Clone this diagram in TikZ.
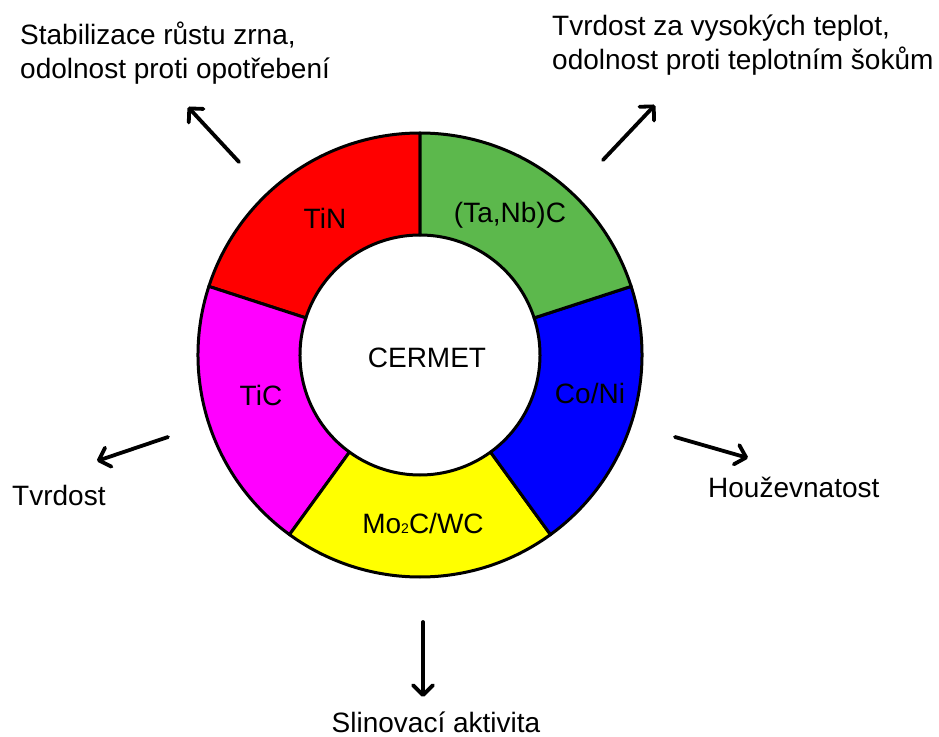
\documentclass[tikz,border=0pt]{standalone}
\usepackage{fontspec}
\setmainfont{Liberation Sans}
\usetikzlibrary{arrows.meta}
\definecolor{cgreen}{HTML}{5CB84C}
\definecolor{cred}{RGB}{255,0,0}
\definecolor{cmag}{RGB}{255,0,255}
\definecolor{cyel}{RGB}{255,255,0}
\definecolor{cblue}{RGB}{0,0,255}
\tikzset{
  seg/.style={line width=3pt, line join=round},
  lbl/.style={font=\fontsize{28}{34}\selectfont, inner sep=0pt},
  arr/.style={line width=3.8pt, line cap=round, -{Straight Barb[length=10pt,width=20pt,round]}}
}
\begin{document}
\begin{tikzpicture}[x=1pt,y=1pt]
  \useasboundingbox (-420,-381) rectangle (519,355);
  % ring segments
  \filldraw[seg,fill=cred] (90:222) arc[start angle=90,end angle=162,radius=222] -- (162:120) arc[start angle=162,end angle=90,radius=120] -- cycle;
  \filldraw[seg,fill=cmag] (162:222) arc[start angle=162,end angle=234,radius=222] -- (234:120) arc[start angle=234,end angle=162,radius=120] -- cycle;
  \filldraw[seg,fill=cyel] (234:222) arc[start angle=234,end angle=306,radius=222] -- (306:120) arc[start angle=306,end angle=234,radius=120] -- cycle;
  \filldraw[seg,fill=cblue] (306:222) arc[start angle=306,end angle=378,radius=222] -- (378:120) arc[start angle=378,end angle=306,radius=120] -- cycle;
  \filldraw[seg,fill=cgreen] (18:222) arc[start angle=18,end angle=90,radius=222] -- (90:120) arc[start angle=90,end angle=18,radius=120] -- cycle;
  % segment labels
  \node[lbl] (tin) at (-95,137) {TiN};
  \node[lbl] (tanb) at (90,140) {(Ta,Nb)C};
  \node[lbl] (coni) at (170,-38) {Co/Ni};
  \node[lbl] (mowc) at (3,-168) {Mo{\fontsize{14}{14}\selectfont 2}C/WC};
  \node[lbl] (tic) at (-159,-40) {TiC};
  \node[lbl] (cermet) at (7,-3) {CERMET};
  % properties
  \node[lbl,align=left,anchor=north west] (stab) at (-400,333) {Stabilizace růstu zrna,\\odolnost proti opotřebení};
  \node[lbl,align=left,anchor=north west] (tvrt) at (132,340) {Tvrdost za vysokých teplot,\\odolnost proti teplotním šokům};
  \node[lbl,anchor=base west] (tvrd) at (-408,-150) {Tvrdost};
  \node[lbl,anchor=base west] (houz) at (288,-142) {Houževnatost};
  \node[lbl,anchor=base] (slin) at (16,-377) {Slinovací aktivita};
  % arrows
  \coordinate (a1) at (-181,193); \coordinate (b1) at (-232,248);
  \coordinate (a2) at (183,195);  \coordinate (b2) at (235,250);
  \coordinate (a3) at (-252,-82); \coordinate (b3) at (-323,-106);
  \coordinate (a4) at (255,-82);  \coordinate (b4) at (328,-103);
  \coordinate (a5) at (3,-267);   \coordinate (b5) at (3,-342);
  \draw[arr] (a1) -- (b1);
  \draw[arr] (a2) -- (b2);
  \draw[arr] (a3) -- (b3);
  \draw[arr] (a4) -- (b4);
  \draw[arr] (a5) -- (b5);
\end{tikzpicture}
\end{document}
